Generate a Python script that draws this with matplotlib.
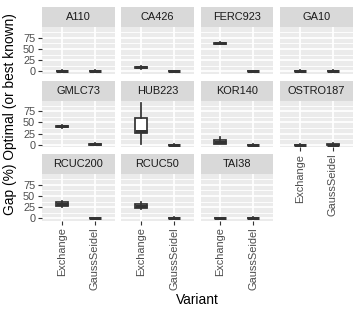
import numpy as np
import matplotlib.pyplot as plt

plt.rcParams['font.family'] = ['Liberation Sans', 'DejaVu Sans']

# ── Data (five-number summaries) ──────────────────────────────────────────────
instances = ['A110', 'CA426', 'FERC923', 'GA10',
             'GMLC73', 'HUB223', 'KOR140', 'OSTRO187',
             'RCUC200', 'RCUC50', 'TAI38']
variants = ['Exchange', 'GaussSeidel']

# [whislo, q1, median, q3, whishi]
exchange = [
    [0.5, 1.0, 1.2, 1.5, 2.0],
    [6.0, 8.0, 9.0, 10.5, 12.5],
    [61.0, 62.0, 63.0, 64.0, 65.0],
    [0.0, 0.3, 0.5, 1.0, 2.5],
    [38.5, 40.5, 41.5, 42.5, 45.0],
    [2.0, 27.0, 30.0, 59.0, 93.0],
    [1.5, 3.0, 6.0, 10.0, 17.0],
    [0.0, 0.2, 0.4, 0.7, 1.0],
    [25.0, 27.0, 31.0, 36.0, 39.0],
    [21.0, 23.5, 28.0, 32.5, 37.0],
    [0.0, 0.0, 0.1, 0.3, 0.6],
]
gauss = [
    [0.0, 0.2, 0.6, 1.2, 3.0],
    [0.0, 0.0, 0.2, 0.5, 1.0],
    [0.0, 0.0, 0.2, 0.5, 1.0],
    [0.0, 0.3, 0.6, 1.2, 3.0],
    [0.0, 0.5, 1.5, 2.5, 5.0],
    [0.0, 0.0, 0.2, 0.5, 1.0],
    [0.0, 0.0, 0.2, 0.5, 1.0],
    [0.0, 0.3, 0.8, 1.5, 4.0],
    [0.0, 0.0, 0.2, 0.5, 1.0],
    [0.0, 0.3, 0.8, 1.5, 4.0],
    [0.0, 0.3, 0.6, 1.2, 3.0],
]
y_ticks = [0, 25, 50, 75]

# ── Layout (pixels) ───────────────────────────────────────────────────────────
W, H = 360, 315
DPI = 90
NCOL = 4
col_left = [42, 121.3, 200.6, 280]
pan_w = 72.5
strip_top = [7, 80.5, 154]
strip_h = 20
pan_h = 46.5

dark = '#333333'
fig = plt.figure(figsize=(W / DPI, H / DPI), dpi=DPI)

def px_axes(x0, y0, w, h):
    return fig.add_axes([x0 / W, 1 - (y0 + h) / H, w / W, h / H])

n = len(instances)
for i, name in enumerate(instances):
    r, c = divmod(i, NCOL)
    x0 = col_left[c]
    st = strip_top[r]

    # strip
    sax = px_axes(x0, st, pan_w, strip_h)
    sax.set_facecolor('#D9D9D9')
    sax.set_xticks([]); sax.set_yticks([])
    for s in sax.spines.values():
        s.set_visible(False)
    sax.text(0.5, 0.5, name, ha='center', va='center', fontsize=8.8,
             color='#1A1A1A', transform=sax.transAxes)

    # panel
    ax = px_axes(x0, st + strip_h, pan_w, pan_h)
    ax.set_facecolor('#EBEBEB')
    for s in ax.spines.values():
        s.set_visible(False)
    ax.set_xlim(0.4, 2.6)
    ax.set_ylim(-4.7, 98.7)
    for yv in [12.5, 37.5, 62.5, 87.5]:
        ax.axhline(yv, color='white', lw=0.71, zorder=0)
    for yv in y_ticks:
        ax.axhline(yv, color='white', lw=1.42, zorder=0)
    for xv in [1, 2]:
        ax.axvline(xv, color='white', lw=1.42, zorder=0)

    stats = []
    for v, vals in zip(variants, [exchange[i], gauss[i]]):
        lo, q1, med, q3, hi = vals
        stats.append(dict(whislo=lo, q1=q1, med=med, q3=q3, whishi=hi,
                          fliers=[], label=v))
    ax.bxp(stats, positions=[1, 2], widths=0.37, patch_artist=True,
           showfliers=False, showcaps=False,
           boxprops=dict(facecolor='white', edgecolor=dark, lw=1.4),
           whiskerprops=dict(color=dark, lw=1.4),
           medianprops=dict(color=dark, lw=2.4),
           zorder=3)

    ax.set_yticks(y_ticks)
    ax.set_xticks([1, 2])
    ax.tick_params(length=3.4, width=0.9, color=dark, labelcolor='#4D4D4D',
                   labelsize=8.8, pad=2)
    if c == 0:
        ax.set_yticklabels([str(t) for t in y_ticks])
    else:
        ax.tick_params(axis='y', length=0, labelleft=False)
    bottom = (i + NCOL >= n)
    if bottom:
        ax.set_xticklabels(variants, rotation=90)
    else:
        ax.tick_params(axis='x', length=0, labelbottom=False)

fig.text(10 / W, 1 - 114 / H, 'Gap (%) Optimal (or best known)', rotation=90,
         ha='center', va='center', fontsize=11, color='black')
fig.text(197 / W, 1 - 300 / H, 'Variant', ha='center', va='center',
         fontsize=11, color='black')

fig.savefig('out.png', dpi=DPI)
